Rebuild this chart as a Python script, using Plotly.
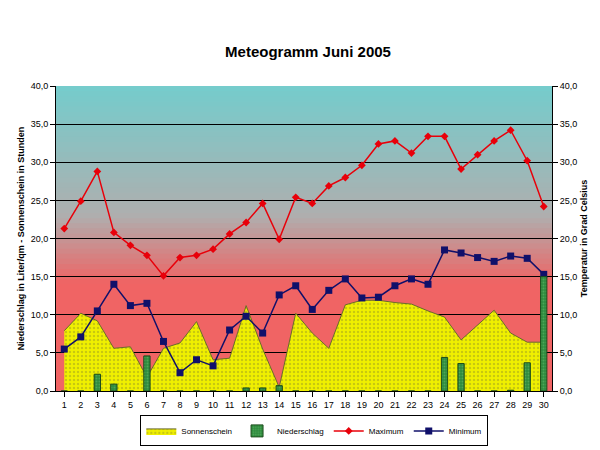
import plotly.graph_objects as go

days = list(range(1, 31))
sonnenschein = [7.9,10.2,9.2,5.6,5.8,1.8,5.6,6.3,9.1,4.1,4.3,11.2,5.5,0.5,10.2,7.6,5.6,11.3,11.9,11.9,11.6,11.4,10.5,9.7,6.7,8.7,10.6,7.6,6.4,6.4]
niederschlag = [0,0,2.2,0.9,0,4.6,0,0,0,0,0,0.4,0.4,0.7,0,0,0,0,0,0,0,0,0,4.4,3.6,0,0,0.1,3.7,15.0]
maximum = [21.3,24.9,28.8,20.8,19.1,17.8,15.1,17.5,17.8,18.6,20.6,22.1,24.6,19.9,25.4,24.6,26.9,28.0,29.6,32.4,32.8,31.2,33.4,33.4,29.1,31.0,32.8,34.2,30.2,24.2]
minimum = [5.5,7.1,10.5,14.0,11.2,11.5,6.5,2.4,4.1,3.3,8.0,9.8,7.6,12.6,13.8,10.7,13.2,14.7,12.2,12.3,13.8,14.7,14.0,18.5,18.1,17.5,17.0,17.7,17.4,15.3]
ticks = [0,5,10,15,20,25,30,35,40]
ticklabels = [f"{t:.1f}".replace(".", ",") for t in ticks]

fig = go.Figure()
fig.add_trace(go.Scatter(x=days, y=sonnenschein, name="Sonnenschein", mode="lines",
    fill="tozeroy", line=dict(color="#6b6b2a", width=1), fillcolor="#f0f000",
    fillpattern=dict(shape=".", fgcolor="#a0a020", bgcolor="#f0f000", size=4, solidity=0.3)))
fig.add_trace(go.Bar(x=days, y=niederschlag, name="Niederschlag", width=0.38, yaxis="y3",
    marker=dict(color="#2e8b3e", line=dict(color="#1a4a1a", width=1),
                pattern=dict(shape=".", fgcolor="#70c070", size=3, solidity=0.3))))
fig.add_trace(go.Scatter(x=days, y=maximum, name="Maximum", mode="lines+markers", yaxis="y2",
    line=dict(color="#e8000a", width=1.5), marker=dict(symbol="diamond", size=6, color="#e8000a")))
fig.add_trace(go.Scatter(x=days, y=minimum, name="Minimum", mode="lines+markers", yaxis="y2",
    line=dict(color="#10106a", width=1.5), marker=dict(symbol="square", size=7, color="#10106a")))

top = (118, 204, 204); mid = (175, 175, 175); bot = (240, 100, 100)
n = 60
shapes = []
for i in range(n):
    f = i / (n - 1)
    if f < 0.35:
        col = bot
    else:
        g = (f - 0.35) / 0.65
        if g < 0.35:
            h = g / 0.35
            col = tuple(int(bot[k] + (mid[k] - bot[k]) * h) for k in range(3))
        else:
            h = (g - 0.35) / 0.65
            col = tuple(int(mid[k] + (top[k] - mid[k]) * h) for k in range(3))
    shapes.append(dict(type="rect", xref="paper", yref="paper", x0=0, x1=1,
        y0=i / n, y1=min(1, (i + 1.6) / n), fillcolor=f"rgb{col}", line=dict(width=0), layer="below"))

axcommon = dict(range=[0, 40], tickvals=ticks, ticktext=ticklabels, showline=True,
                linecolor="black", ticks="outside", tickcolor="black", zeroline=False)
fig.update_layout(
    width=600, height=450, margin=dict(l=43, r=56, t=78, b=64),
    paper_bgcolor="white", plot_bgcolor="rgba(0,0,0,0)", shapes=shapes,
    title=dict(text="<b>Meteogramm Juni 2005</b>", x=0.5, y=0.915, xanchor="center",
               font=dict(family="Arial", size=15, color="black")),
    font=dict(family="Arial", size=9, color="black"),
    xaxis=dict(range=[0.5, 30.5], tickvals=days, showgrid=False, ticks="outside",
               showline=True, linecolor="black", tickcolor="black"),
    yaxis=dict(**axcommon, showgrid=True, gridcolor="black", gridwidth=1,
               title=dict(text="<b>Niederschlag in Liter/qm - Sonnenschein in Stunden</b>", font=dict(size=9), standoff=4)),
    yaxis2=dict(**axcommon, overlaying="y", side="right", showgrid=False,
                title=dict(text="<b>Temperatur in Grad Celsius</b>", font=dict(size=9), standoff=4)),
    yaxis3=dict(range=[0, 40], overlaying="y", visible=False),
    legend=dict(orientation="h", x=0.17, xanchor="left", y=-0.08, yanchor="top",
                bordercolor="black", borderwidth=1, font=dict(size=8), bgcolor="white",
                itemwidth=30),
)
fig.write_html("out.html")
